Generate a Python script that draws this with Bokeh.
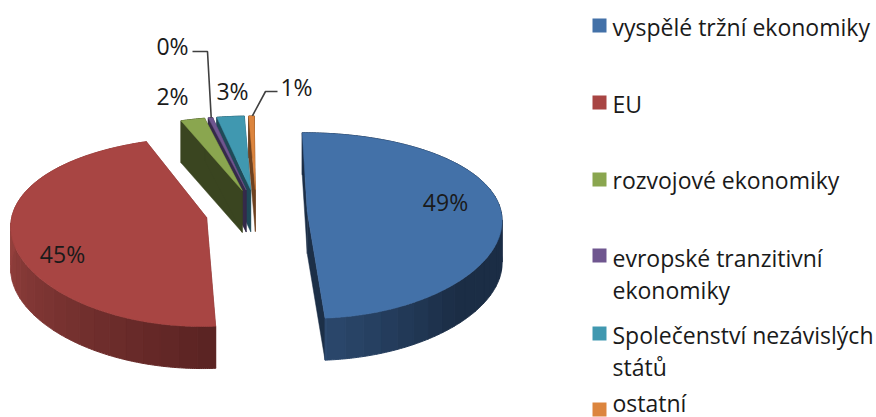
import numpy as np
from bokeh.plotting import figure
from bokeh.models import Range1d
from bokeh.core.properties import value
from bokeh.embed import file_html
from bokeh.resources import INLINE

# --- data -------------------------------------------------------------
categories = ["vyspělé tržní ekonomiky", "EU", "rozvojové ekonomiky",
              "evropské tranzitivní ekonomiky", "Společenství nezávislých států", "ostatní"]
legend_lines = [["vyspělé tržní ekonomiky"], ["EU"], ["rozvojové ekonomiky"],
                ["evropské tranzitivní", "ekonomiky"], ["Společenství nezávislých", "států"], ["ostatní"]]
shares = [49.1, 45.3, 2.2, 0.4, 2.5, 0.5]
labels = ["49%", "45%", "2%", "0%", "3%", "1%"]
face_colors = ["#4371a8", "#a84543", "#8aa64f", "#6f568f", "#4098b0", "#dc853e"]
wall_colors = ["#1c2f47", "#7a302e", "#3a4520", "#352a4a", "#1f4a58", "#6e4220"]
blue_wall = ("#1b2d45", "#2b486d")
red_wall = ("#93403d", "#5a2322")

# --- layout -----------------------------------------------------------
CX, CY, RX, RY, KX, KY, EXPLODE, DEPTH, START = 256, 212, 194, 91, 0.08, 0.15, 0.262, 42, -0.4
label_pos = [(445, 201), (62, 253), (172, 95), (172, 45), (232, 90), (296, 86)]
legend_y = [[26], [103], [179], [257, 289], [334, 366], [402]]
legend_box_y = [25, 102, 179, 255, 333, 409]
LEG_BOX_X, LEG_TEXT_X, FONT = 599, 612, "Open Sans"

def project(u, v):
    return CX + RX * u / (1.0 + KX * v), CY - RY * v / (1.0 + KY * v)

def mix(c1, c2, t):
    a = [int(c1[i:i+2], 16) for i in (1, 3, 5)]
    b = [int(c2[i:i+2], 16) for i in (1, 3, 5)]
    return "#%02x%02x%02x" % tuple(int(round(x + (y - x) * t)) for x, y in zip(a, b))

p = figure(width=876, height=417, output_backend="svg", toolbar_location=None,
           x_range=Range1d(0, 876), y_range=Range1d(417, 0), min_border=0)
p.axis.visible = False
p.grid.visible = False
p.outline_line_color = None
p.background_fill_color = "white"

edges = START + np.cumsum([0] + shares) / sum(shares) * 360
slices = []
for i in range(len(shares)):
    a0, a1 = edges[i], edges[i + 1]
    mid = np.radians((a0 + a1) / 2)
    ou, ov = EXPLODE * np.sin(mid), EXPLODE * np.cos(mid)
    th = np.radians(np.linspace(a0, a1, max(int(a1 - a0) * 2, 4)))
    rx_, ry_ = project(ou + np.sin(th), ov + np.cos(th))
    ax, ay = project(ou, ov)
    slices.append(dict(ax=ax, ay=ay, x=rx_, y=ry_, th=np.degrees(th)))

def draw_radial(sl, color):
    for j in (0, -1):
        xs = [sl["ax"], sl["x"][j], sl["x"][j], sl["ax"]]
        ys = [sl["ay"], sl["y"][j], sl["y"][j] + DEPTH, sl["ay"] + DEPTH]
        p.patch(xs, ys, fill_color=color, line_color=color, line_width=0.5)

def draw_rim(sl, colorfn, band=10):
    x, y, th = sl["x"], sl["y"], sl["th"]
    n = len(x)
    for j in range(0, n - 1, band):
        k = min(j + band, n - 1)
        c = colorfn(th[(j + k) // 2])
        xs = list(x[j:k+1]) + list(x[j:k+1][::-1])
        ys = list(y[j:k+1]) + list((y[j:k+1] + DEPTH)[::-1])
        p.patch(xs, ys, fill_color=c, line_color=c, line_width=1)

def draw_face(sl, color):
    p.patch([sl["ax"], *sl["x"]], [sl["ay"], *sl["y"]],
            fill_color=color, line_color=color, line_width=0.5)

# back: the small slices
small = [2, 3, 4, 5]
for i in reversed(small):
    draw_rim(slices[i], lambda t, c=wall_colors[i]: c)
    draw_radial(slices[i], wall_colors[i])
for i in small:
    draw_face(slices[i], face_colors[i])

# red
draw_radial(slices[1], wall_colors[1])
draw_rim(slices[1], lambda t: mix(red_wall[1], red_wall[0], np.clip((t - 177) / 90, 0, 1)))
draw_face(slices[1], face_colors[1])

# blue
draw_radial(slices[0], wall_colors[0])
draw_rim(slices[0], lambda t: mix(blue_wall[0], blue_wall[1], np.clip((t - 135) / 41, 0, 1)))
draw_face(slices[0], face_colors[0])

# leader lines for the two outer labels
for i, (lx, ly, elbow) in {3: (192, 51, 207), 5: (277, 91, 265)}.items():
    sl = slices[i]
    n = len(sl["x"]) // 2
    p.line([lx, elbow, sl["x"][n]], [ly, ly, sl["y"][n]], line_color="#404040", line_width=1.6)

# data labels
p.text([q[0] for q in label_pos], [q[1] for q in label_pos], text=labels,
       text_font=value(FONT), text_font_size="23px", text_color="#1a1a1a",
       text_align="center", text_baseline="middle")

# legend
for i, lines in enumerate(legend_lines):
    p.rect([LEG_BOX_X], [legend_box_y[i]], width=14, height=14, fill_color=face_colors[i], line_color=None)
    p.text([LEG_TEXT_X] * len(lines), legend_y[i], text=lines,
           text_font=value(FONT), text_font_size="23px", text_color="#1a1a1a",
           text_align="left", text_baseline="middle")

open("out.html", "w").write(file_html(p, INLINE))
